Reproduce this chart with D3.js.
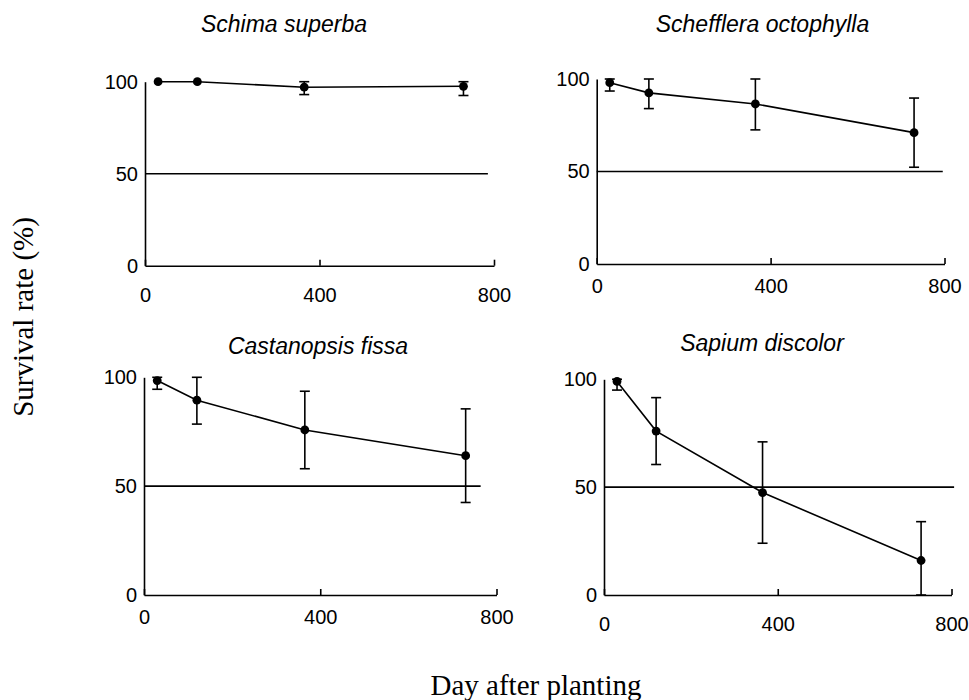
<!DOCTYPE html>
<html>
<head>
<meta charset="utf-8">
<script src="https://cdn.jsdelivr.net/npm/d3@7"></script>
<style>
  html, body { margin: 0; padding: 0; background: #fff; }
  svg { display: block; }
</style>
</head>
<body>
<svg id="chart" width="969" height="700"></svg>
<script>
// ---- data ----
const days = [30, 120, 365, 730];
const species = ["Schima superba", "Schefflera octophylla", "Castanopsis fissa", "Sapium discolor"];
const schimaMean = [100, 100, 97, 97.5];
const schimaErr = [0, 0, 4, 5];
const scheffleraMean = [98, 92.5, 86.5, 71];
const scheffleraErr = [4.5, 8.5, 14, 18.7];
const castanopsisMean = [98.5, 89.5, 75.8, 64];
const castanopsisErr = [4, 11, 17.8, 21.5];
const sapiumMean = [99, 76, 47.5, 16];
const sapiumErr = [4, 15.5, 23.5, 18];
const xTicks = [0, 400, 800];
const yTicks = [0, 50, 100];
const refLevel = 50;
const xLabel = "Day after planting";
const yLabel = "Survival rate (%)";

// ---- layout (pixel positions per panel) ----
const panels = [
  { name: species[0], mean: schimaMean, err: schimaErr,
    x0: 145, x1: 494, y0: 265.7, y1: 81.7, refEnd: 786, pad: 22, tx: 284, ty: 32 },
  { name: species[1], mean: scheffleraMean, err: scheffleraErr,
    x0: 596.7, x1: 944.5, y0: 264, y1: 79, refEnd: 796, pad: 15, tx: 762.5, ty: 32 },
  { name: species[2], mean: castanopsisMean, err: castanopsisErr,
    x0: 144, x1: 496.5, y0: 595, y1: 377.3, refEnd: 764, pad: 15, tx: 318, ty: 354 },
  { name: species[3], mean: sapiumMean, err: sapiumErr,
    x0: 604, x1: 951.5, y0: 595, y1: 379.3, refEnd: 806, pad: 22, tx: 762, ty: 351 }
];

const svg = d3.select("#chart");
const sans = "'Liberation Sans', Arial, Helvetica, sans-serif";
const serif = "'Liberation Serif', 'Times New Roman', Times, serif";
const SW = 1.6;

panels.forEach(p => {
  const x = d3.scaleLinear().domain([0, 800]).range([p.x0, p.x1]);
  const y = d3.scaleLinear().domain([0, 100]).range([p.y0, p.y1]);
  const g = svg.append("g");

  // x axis
  const xa = g.append("g")
    .attr("transform", `translate(0,${p.y0})`)
    .call(d3.axisBottom(x).tickValues(xTicks).tickSizeInner(-6).tickSizeOuter(0).tickPadding(p.pad));
  xa.select(".domain").attr("stroke", "#000").attr("stroke-width", SW);
  xa.selectAll(".tick line").attr("stroke", "#000").attr("stroke-width", SW);
  xa.selectAll(".tick text").attr("font-family", sans).attr("font-size", 20).attr("fill", "#000");

  // y axis
  const ya = g.append("g")
    .attr("transform", `translate(${p.x0},0)`)
    .call(d3.axisLeft(y).tickValues(yTicks).tickSize(0).tickPadding(7));
  ya.select(".domain").attr("stroke", "#000").attr("stroke-width", SW);
  ya.selectAll(".tick text").attr("font-family", sans).attr("font-size", 20).attr("fill", "#000");

  // reference line at 50%
  g.append("line")
    .attr("x1", x(0)).attr("x2", x(p.refEnd))
    .attr("y1", y(refLevel)).attr("y2", y(refLevel))
    .attr("stroke", "#000").attr("stroke-width", SW);

  const pts = days.map((d, i) => ({ d, m: p.mean[i], e: p.err[i] }));

  // error bars
  const eb = g.append("g").attr("stroke", "#000").attr("stroke-width", SW);
  pts.filter(q => q.e > 0).forEach(q => {
    const hi = Math.min(100, q.m + q.e), lo = Math.max(0, q.m - q.e);
    eb.append("line").attr("x1", x(q.d)).attr("x2", x(q.d)).attr("y1", y(hi)).attr("y2", y(lo));
    eb.append("line").attr("x1", x(q.d) - 5).attr("x2", x(q.d) + 5).attr("y1", y(hi)).attr("y2", y(hi));
    eb.append("line").attr("x1", x(q.d) - 5).attr("x2", x(q.d) + 5).attr("y1", y(lo)).attr("y2", y(lo));
  });

  // line
  g.append("path")
    .datum(pts)
    .attr("fill", "none").attr("stroke", "#000").attr("stroke-width", SW)
    .attr("d", d3.line().x(q => x(q.d)).y(q => y(q.m)));

  // dots
  g.selectAll("circle.pt").data(pts).enter().append("circle")
    .attr("class", "pt")
    .attr("cx", q => x(q.d)).attr("cy", q => y(q.m)).attr("r", 4.4)
    .attr("fill", "#000");

  // title
  svg.append("text")
    .attr("x", p.tx).attr("y", p.ty)
    .attr("text-anchor", "middle")
    .attr("font-family", sans).attr("font-style", "italic").attr("font-size", 23)
    .attr("fill", "#000")
    .text(p.name);
});

// axis titles
svg.append("text")
  .attr("x", 536).attr("y", 695)
  .attr("text-anchor", "middle")
  .attr("font-family", serif).attr("font-size", 29).attr("fill", "#000")
  .text(xLabel);

svg.append("text")
  .attr("transform", "translate(33,317) rotate(-90)")
  .attr("text-anchor", "middle")
  .attr("font-family", serif).attr("font-size", 29).attr("fill", "#000")
  .text(yLabel);
</script>
</body>
</html>
